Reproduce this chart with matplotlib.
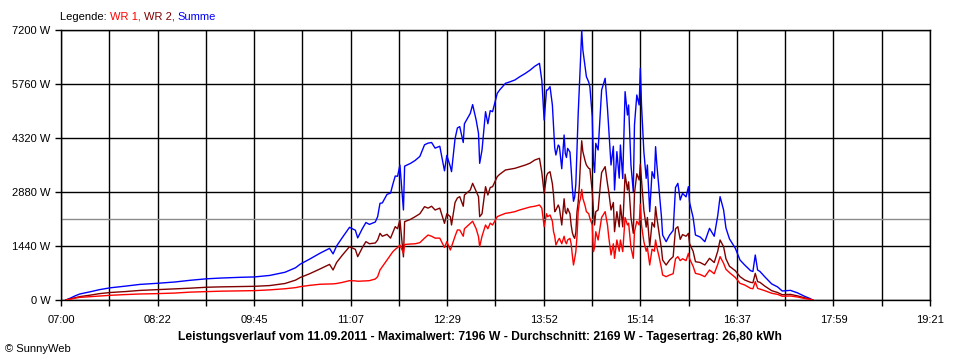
import numpy as np
import matplotlib
matplotlib.use("Agg")
import matplotlib.pyplot as plt

plt.rcParams['font.family'] = ['Liberation Sans', 'DejaVu Sans']

# Messzeitpunkte (11.09.2011)
zeiten = [
    "07:04", "07:08", "07:12", "07:16", "07:25", "07:33", "07:42", "07:55", "08:07", "08:22",
    "08:37", "08:50", "09:04", "09:16", "09:33", "09:45", "09:58", "10:11", "10:20", "10:24",
    "10:32", "10:41", "10:49", "10:52", "10:55", "11:00", "11:06", "11:11", "11:13", "11:17",
    "11:20", "11:23", "11:28", "11:30", "11:32", "11:34", "11:38", "11:41", "11:43", "11:45",
    "11:47", "11:49", "11:52", "11:53", "11:58", "12:02", "12:06", "12:10", "12:13", "12:16",
    "12:19", "12:23", "12:27", "12:29", "12:32", "12:33", "12:36", "12:38", "12:40", "12:43",
    "12:44", "12:49", "12:51", "12:54", "12:56", "12:57", "12:59", "13:02", "13:04", "13:06",
    "13:08", "13:12", "13:14", "13:19", "13:23", "13:27", "13:31", "13:36", "13:40", "13:44",
    "13:48", "13:50", "13:52", "13:54", "13:55", "13:57", "13:59", "14:00", "14:01", "14:02",
    "14:04", "14:05", "14:07", "14:09", "14:10", "14:11", "14:12", "14:14", "14:15", "14:16",
    "14:17", "14:18", "14:19", "14:20", "14:21", "14:22", "14:23", "14:24", "14:25", "14:27",
    "14:28", "14:30", "14:31", "14:33", "14:34", "14:35", "14:36", "14:38", "14:40", "14:41",
    "14:44", "14:46", "14:47", "14:49", "14:51", "14:52", "14:54", "14:56", "14:57", "14:59",
    "15:01", "15:03", "15:04", "15:06", "15:08", "15:09", "15:11", "15:13", "15:14", "15:15",
    "15:17", "15:19", "15:20", "15:22", "15:24", "15:26", "15:27", "15:28", "15:30", "15:32",
    "15:33", "15:36", "15:39", "15:42", "15:44", "15:46", "15:48", "15:50", "15:53", "15:55",
    "15:56", "15:59", "16:01", "16:05", "16:09", "16:13", "16:17", "16:20", "16:22", "16:25",
    "16:27", "16:30", "16:35", "16:39", "16:43", "16:48", "16:50", "16:52", "16:54", "16:56",
    "17:00", "17:06", "17:11", "17:15", "17:22", "17:28", "17:34", "17:39", "17:41",
]

# Wechselrichter 1 (W)
wr1 = [
    0, 20, 50, 70, 90, 107, 125, 145, 160, 170,
    185, 210, 225, 235, 245, 250, 270, 300, 330, 356,
    390, 420, 427, 430, 440, 470, 516, 510, 500, 505,
    510, 516, 560, 622, 800, 889, 1067, 1200, 1289, 1350,
    1400, 1467, 1250, 1480, 1493, 1500, 1529, 1650, 1733, 1700,
    1650, 1650, 1400, 1556, 1333, 1422, 1700, 1867, 1867, 1700,
    1900, 2044, 2100, 1900, 1689, 1422, 1700, 2000, 1900, 2050,
    2000, 2222, 2250, 2311, 2330, 2356, 2400, 2444, 2480, 2500,
    2533, 2450, 1956, 2300, 2222, 2267, 2100, 1822, 1700, 1467,
    1600, 1644, 1500, 1700, 1556, 1500, 1600, 1644, 1500, 1200,
    933, 1100, 1289, 1700, 2356, 2600, 2700, 2950, 2711, 2500,
    2356, 2300, 2178, 2000, 1289, 1400, 1822, 1600, 2000, 2200,
    2356, 2000, 1700, 1200, 1500, 1111, 1600, 1300, 1600, 1289,
    2200, 2000, 2050, 1400, 1111, 1822, 2100, 2000, 2556, 2000,
    1556, 1300, 1400, 933, 1356, 1300, 1600, 1422, 1150, 850,
    667, 622, 667, 700, 1100, 1156, 1050, 1100, 1050, 1244,
    1100, 900, 711, 680, 622, 800, 700, 950, 1156, 978,
    820, 730, 600, 444, 400, 311, 300, 489, 311, 290,
    250, 180, 150, 100, 107, 80, 40, 15, 0,
]

# Wechselrichter 2 (W)
wr2 = [
    0, 30, 60, 90, 130, 170, 200, 225, 255, 275,
    295, 315, 340, 350, 360, 365, 385, 440, 530, 600,
    700, 830, 950, 800, 1000, 1200, 1422, 1350, 1156, 1400,
    1556, 1500, 1520, 1600, 1778, 1700, 1750, 1650, 1800, 1956,
    1900, 2133, 1150, 2089, 2150, 2222, 2300, 2489, 2450, 2500,
    2400, 2450, 2044, 2300, 2222, 2000, 2600, 2720, 2756, 2500,
    2800, 2933, 3111, 2900, 2756, 2222, 2300, 3022, 2800, 3000,
    3022, 3289, 3350, 3467, 3490, 3511, 3550, 3600, 3650, 3733,
    3778, 3400, 2844, 3300, 3378, 3422, 3100, 2800, 2356, 2400,
    2533, 2450, 2000, 2700, 2356, 2300, 2444, 2300, 2000, 1800,
    1700, 1644, 1800, 2356, 2600, 3067, 3700, 4246, 3956, 3700,
    3600, 3511, 3500, 2889, 2400, 2000, 2356, 2400, 3100, 3400,
    3556, 3100, 2900, 2400, 2600, 1822, 2356, 1950, 2533, 1950,
    3356, 2933, 3150, 2200, 1778, 2845, 3367, 3200, 3622, 3200,
    2400, 1944, 2200, 1423, 2066, 1944, 2489, 2222, 1780, 1370,
    1067, 933, 1067, 1156, 1900, 1955, 1617, 1744, 1700, 1778,
    1500, 1300, 1022, 1000, 933, 1111, 1000, 1300, 1600, 1422,
    1100, 900, 780, 622, 533, 471, 460, 711, 489, 471,
    373, 249, 200, 140, 150, 110, 60, 20, 0,
]

durchschnitt = 2169
y_ticks = [0, 1440, 2880, 4320, 5760, 7200]
x_labels = ["07:00", "08:22", "09:45", "11:07", "12:29", "13:52",
            "15:14", "16:37", "17:59", "19:21"]
x_start, x_end = "07:00", "19:21"


def to_min(t):
    h, m = t.split(":")
    return int(h) * 60 + int(m)


t = np.array([to_min(z) for z in zeiten])
wr1 = np.array(wr1)
wr2 = np.array(wr2)
summe = wr1 + wr2

fig = plt.figure(figsize=(9.6, 3.6), dpi=100, facecolor='white')
ax = fig.add_axes([61 / 960, 60 / 360, 869 / 960, 270 / 360])

x0, x1 = to_min(x_start), to_min(x_end)
ax.set_xlim(x0, x1)
ax.set_ylim(0, 7200)

# Gitter
grid_x = np.linspace(x0, x1, 19)
for gx in grid_x:
    ax.axvline(gx, color='black', lw=1.0, zorder=1)
for gy in y_ticks:
    ax.axhline(gy, color='black', lw=1.0, zorder=1)
ax.axhline(durchschnitt, color='#8c8c8c', lw=1.0, zorder=1)

ax.plot(t, summe, color='#0000ff', lw=1.0, zorder=3)
ax.plot(t, wr2, color='#800000', lw=1.0, zorder=4)
ax.plot(t, wr1, color='#ff0000', lw=1.0, zorder=5)

ax.set_xticks(grid_x)
ax.set_xticklabels([x_labels[i // 2] if i % 2 == 0 else '' for i in range(19)])
ax.set_yticks(y_ticks)
ax.set_yticklabels([f"{v} W" for v in y_ticks])
ax.tick_params(axis='both', direction='out', length=4.5, width=1.0,
               labelsize=8, colors='black')
ax.tick_params(axis='y', pad=3)
ax.tick_params(axis='x', pad=6)
for s in ax.spines.values():
    s.set_linewidth(1.0)
    s.set_color('black')

# Legende oben als farbige Textstücke
fig.canvas.draw()
renderer = fig.canvas.get_renderer()
teile = [("Legende: ", 'black'), ("WR 1, ", '#ff0000'),
         ("WR 2, ", '#800000'), ("Summe", '#0000ff')]
xpos = 60 / 960
for txt, col in teile:
    tt = fig.text(xpos, 1 - 16.5 / 360, txt, color=col, fontsize=8,
                  va='center', ha='left')
    bb = tt.get_window_extent(renderer=renderer)
    xpos = bb.x1 / fig.bbox.width

fig.text(0.5, 1 - 337 / 360,
         "Leistungsverlauf vom 11.09.2011 - Maximalwert: 7196 W - "
         "Durchschnitt: 2169 W - Tagesertrag: 26,80 kWh",
         ha='center', va='center', fontsize=8.7, fontweight='bold')
fig.text(5 / 960, 1 - 349 / 360, "© SunnyWeb", ha='left', va='center',
         fontsize=8)

fig.savefig("out.png", dpi=100, facecolor='white')
